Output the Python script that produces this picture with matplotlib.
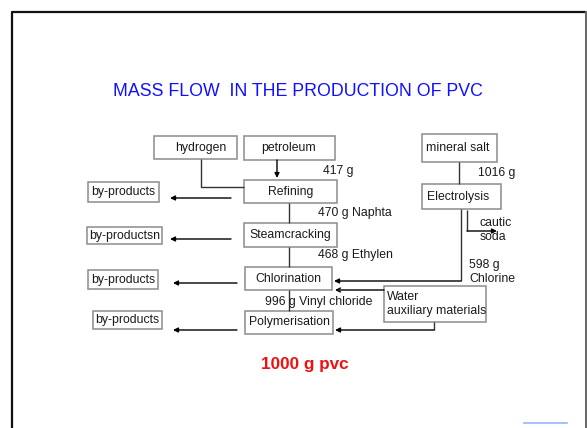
import matplotlib.pyplot as plt
from matplotlib.patches import Rectangle

plt.rcParams['font.family'] = ['Liberation Sans', 'DejaVu Sans']

# Diagram content
title = 'MASS FLOW  IN THE PRODUCTION OF PVC'
process_steps = ['Refining', 'Steamcracking', 'Chlorination', 'Polymerisation']
inputs = ['hydrogen', 'petroleum', 'mineral salt', 'Electrolysis']
side_products = ['by-products', 'by-productsn', 'by-products', 'by-products']
flow_labels = ['417 g', '470 g Naphta', '468 g Ethylen', '996 g Vinyl chloride',
               '1016 g', '598 g\nChlorine', 'cautic\nsoda']
aux_label = 'Water\nauxiliary materials'
result = '1000 g pvc'

# Layout in pixel coordinates (x0, y0, x1, y1)
step_boxes = [(244, 180, 337, 203), (244, 223, 337, 247),
              (245, 267, 332, 290), (245, 311, 333, 334)]
input_boxes = [(154, 136, 237, 159), (244, 136, 335, 160),
               (422, 134, 497, 162), (422, 184, 501, 209)]
side_boxes = [(88, 182, 159, 202), (87, 227, 162, 244),
              (88, 270, 158, 289), (93, 311, 162, 329)]
side_arrows = [(231, 170, 198), (231, 170, 239), (237, 173, 283), (237, 173, 330)]
aux_box = (384, 286, 486, 322)

fig = plt.figure(figsize=(5.87, 4.28), dpi=100)
ax = fig.add_axes([0, 0, 1, 1])
ax.set_xlim(0, 587)
ax.set_ylim(428, 0)
ax.axis('off')

EDGE = '#8c8c8c'
TXT = '#1a1a1a'
FS = 8.8


def box(b, label, ha='center', pad=0, ls=1.2):
    x0, y0, x1, y1 = b
    ax.add_patch(Rectangle((x0, y0), x1 - x0, y1 - y0, fill=False,
                           ec=EDGE, lw=1.1))
    if ha == 'center':
        ax.text((x0 + x1) / 2, (y0 + y1) / 2, label, ha='center', va='center',
                fontsize=FS, color=TXT)
    else:
        ax.text(x0 + pad, (y0 + y1) / 2, label, ha='left', va='center',
                fontsize=FS, color=TXT, linespacing=ls)


def line(xs, ys, lw=1.0, color='#333333'):
    ax.plot(xs, ys, color=color, lw=lw, solid_capstyle='butt')


def arrow(x0, y0, x1, y1, style='-|>'):
    ax.annotate('', xy=(x1, y1), xytext=(x0, y0),
                arrowprops=dict(arrowstyle=style, color='black', lw=1.0,
                                mutation_scale=7, shrinkA=0, shrinkB=0))


# outer slide frame
ax.plot([11.5, 11.5, 585], [440, 12, 12], color='#111111', lw=1.6)
ax.plot([585.5, 585.5], [12, 440], color='#666666', lw=1.4)

ax.text(298, 91.5, title, ha='center', va='center', fontsize=12.8,
        color='#1010ff')

for b, s in zip(step_boxes, process_steps):
    box(b, s)
for b, s in zip(side_boxes, side_products):
    box(b, s)
box(input_boxes[0], inputs[0], ha='left', pad=21)
box(input_boxes[1], inputs[1], ha='left', pad=17)
box(input_boxes[2], inputs[2], ha='left', pad=4)
box(input_boxes[3], inputs[3], ha='left', pad=5)
box(aux_box, aux_label, ha='left', pad=3, ls=1.25)

# by-product arrows
for x0, x1, y in side_arrows:
    arrow(x0, y, x1, y)

# main chain
arrow(277, 160, 277, 178)
line([201, 201, 244], [159, 187, 187])
line([289, 289], [203, 223])
line([289, 289], [247, 267])
line([289, 289], [290, 311])

# electrolysis side
line([459, 459], [162, 184])
line([461, 461], [209, 281])
arrow(461, 281, 334, 281)
line([467, 467], [210, 231])
arrow(467, 231, 497, 231)
arrow(384, 290, 335, 290, style='->')
line([434, 434], [322, 330])
arrow(434, 330, 335, 330)

# flow labels
ax.text(323, 171, flow_labels[0], ha='left', va='center', fontsize=FS, color=TXT)
ax.text(318, 213, flow_labels[1], ha='left', va='center', fontsize=FS, color=TXT)
ax.text(318, 255, flow_labels[2], ha='left', va='center', fontsize=FS, color=TXT)
ax.text(265, 302, flow_labels[3], ha='left', va='center', fontsize=FS, color=TXT)
ax.text(478, 173, flow_labels[4], ha='left', va='center', fontsize=FS, color=TXT)
ax.text(469, 272, flow_labels[5], ha='left', va='center', fontsize=FS, color=TXT,
        linespacing=1.22)
ax.text(480, 230, flow_labels[6], ha='left', va='center', fontsize=FS, color=TXT,
        linespacing=1.12)

ax.text(305, 365, result, ha='center', va='center', fontsize=12.3,
        fontweight='bold', color='#ee1111')

ax.plot([524, 567], [423, 423], color='#99b3ff', lw=1.2)

fig.savefig('out.png', dpi=100)
